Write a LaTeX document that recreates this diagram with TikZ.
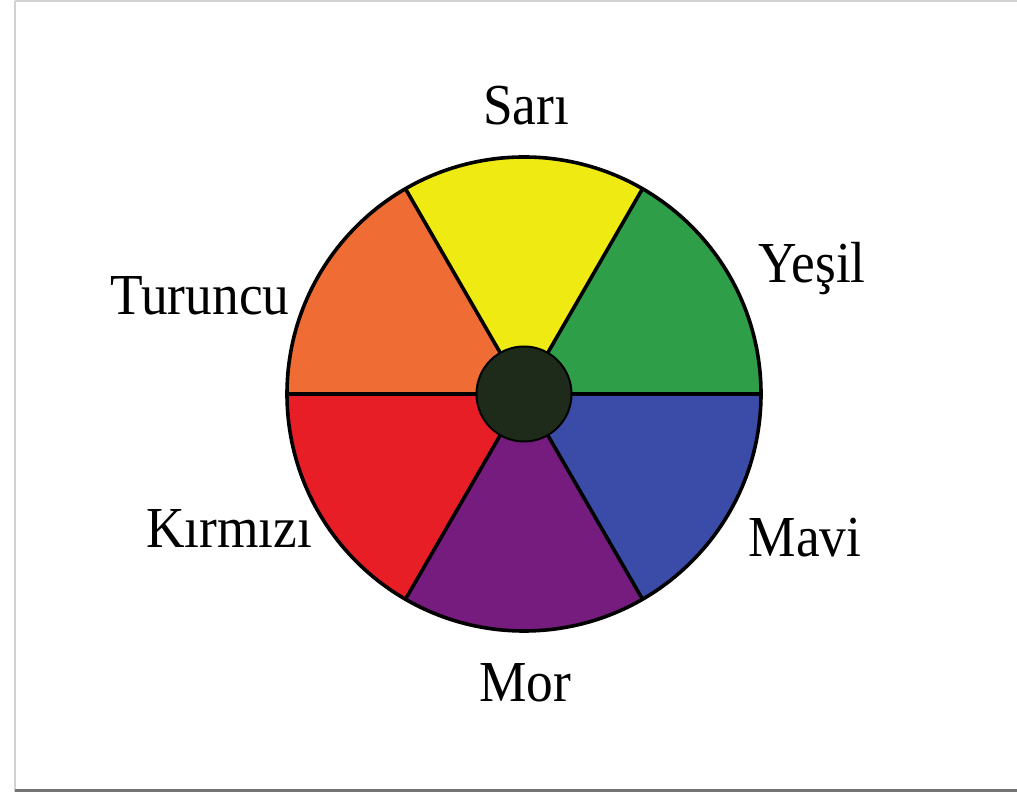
\documentclass[tikz,border=0pt]{standalone}
\usepackage{fontspec}
\setmainfont{Liberation Serif}
\begin{document}
\begin{tikzpicture}[x=1pt,y=1pt,
  lbl/.style={anchor=base,inner sep=0pt,font=\fontsize{58}{58}\selectfont,xscale=0.92},
  divider/.style={line width=3.6pt}]
\useasboundingbox (0,0) rectangle (1017,792);
\fill[white] (0,0) rectangle (1017,792);
% frame
\draw[line width=2pt,color=black!18] (15,0) -- (15,790.5);
\draw[line width=2pt,color=black!18] (15,790.5) -- (1017,790.5);
\draw[line width=3pt,color=black!55] (15,1.5) -- (1017,1.5);
\coordinate (c) at (524,398);
\def\R{237}
\definecolor{cyel}{HTML}{EEEA12}
\definecolor{cgrn}{HTML}{2E9E48}
\definecolor{cblu}{HTML}{3A4CA8}
\definecolor{cpur}{HTML}{761C7E}
\definecolor{cred}{HTML}{E81E26}
\definecolor{cora}{HTML}{EF6C35}
\definecolor{ccen}{HTML}{1F2B1A}
\fill[cgrn] (c) -- ++(0:\R) arc[start angle=0,end angle=60,radius=\R] -- cycle;
\fill[cyel] (c) -- ++(60:\R) arc[start angle=60,end angle=120,radius=\R] -- cycle;
\fill[cora] (c) -- ++(120:\R) arc[start angle=120,end angle=180,radius=\R] -- cycle;
\fill[cred] (c) -- ++(180:\R) arc[start angle=180,end angle=240,radius=\R] -- cycle;
\fill[cpur] (c) -- ++(240:\R) arc[start angle=240,end angle=300,radius=\R] -- cycle;
\fill[cblu] (c) -- ++(300:\R) arc[start angle=300,end angle=360,radius=\R] -- cycle;
\foreach \a in {0,60,120,180,240,300}{
  \draw[divider] (c) -- ++(\a:\R);
}
\draw[divider] (c) circle[radius=\R];
\node[circle,fill=ccen,draw=black,line width=2pt,minimum size=95pt,inner sep=0pt] (hub) at (c) {};
% labels
\node[lbl] (sari) at (526,667) {Sarı};
\node[lbl] (yesil) at (812,509) {Yeşil};
\node[lbl] (turuncu) at (200,477) {Turuncu};
\node[lbl] (kirmizi) at (229,244) {Kırmızı};
\node[lbl] (mavi) at (805,235) {Mavi};
\node[lbl] (mor) at (525,90) {Mor};
\end{tikzpicture}
\end{document}
